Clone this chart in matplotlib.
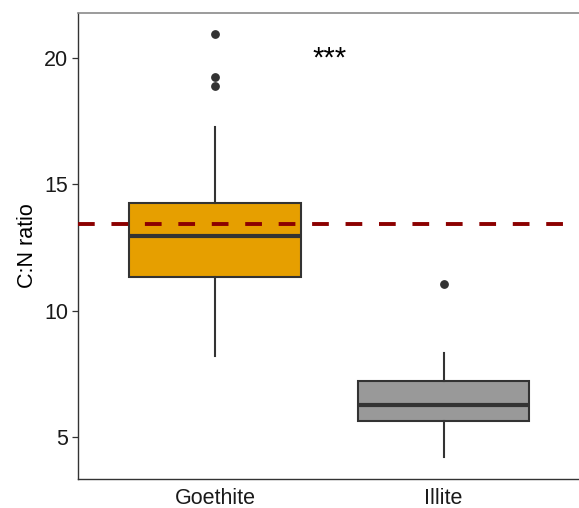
import matplotlib
matplotlib.use("Agg")
import matplotlib.pyplot as plt

plt.rcParams['font.family'] = ['Liberation Sans', 'DejaVu Sans']

categories = ["Goethite", "Illite"]
fills = ["#E69F00", "#999999"]
whislo = [8.2, 4.21]
q1 = [11.35, 5.66]
med = [12.97, 6.29]
q3 = [14.26, 7.21]
whishi = [17.25, 8.33]
outliers = [[20.94, 19.24, 18.86], [11.05]]
ref_line = 13.41
signif_label = "***"
signif_pos = (1.5, 19.95)
yticks = [5, 10, 15, 20]
ylabel = "C:N ratio"

fig = plt.figure(figsize=(5.79, 5.08), dpi=100)
ax = fig.add_axes([77.7/579, (508-478.7)/508, 503/579, 465.7/508])

stats = []
for i in range(len(categories)):
    stats.append(dict(whislo=whislo[i], q1=q1[i], med=med[i], q3=q3[i],
                      whishi=whishi[i], fliers=outliers[i], label=categories[i]))

edge = "#333333"
bp = ax.bxp(stats, positions=[1, 2], widths=0.75, patch_artist=True,
            showcaps=False,
            boxprops=dict(edgecolor=edge, linewidth=1.5),
            whiskerprops=dict(color=edge, linewidth=1.5),
            medianprops=dict(color=edge, linewidth=3.0, solid_capstyle='butt'),
            flierprops=dict(marker='o', markerfacecolor=edge, markeredgecolor=edge,
                            markersize=5.3, linestyle='none'),
            zorder=2)
for patch, c in zip(bp['boxes'], fills):
    patch.set_facecolor(c)

ax.axhline(ref_line, color="#8B0000", linewidth=2.8, linestyle=(0, (4.3, 4.3)), zorder=3)

ax.text(signif_pos[0], signif_pos[1], signif_label, ha='center', va='center',
        fontsize=21, color='black')

ax.set_xlim(0.4, 2.6)
ax.set_ylim(3.37, 21.76)
ax.set_yticks(yticks)
ax.set_yticklabels([str(t) for t in yticks])
ax.set_xticks([1, 2])
ax.set_xticklabels(categories)
ax.tick_params(axis='y', length=4.5, width=0.9, color=edge, labelsize=15.5, pad=2.5, labelcolor='#1a1a1a')
ax.tick_params(axis='x', length=0, labelsize=15.5, pad=7, labelcolor='#1a1a1a')
ax.set_ylabel(ylabel, fontsize=15.5, labelpad=4)

ax.spines['right'].set_visible(False)
ax.spines['top'].set_color('#8a8a8a')
ax.spines['top'].set_linewidth(1.2)
ax.spines['left'].set_color(edge)
ax.spines['bottom'].set_color(edge)
ax.spines['left'].set_linewidth(1.0)
ax.spines['bottom'].set_linewidth(1.0)

fig.savefig("out.png", dpi=100)
